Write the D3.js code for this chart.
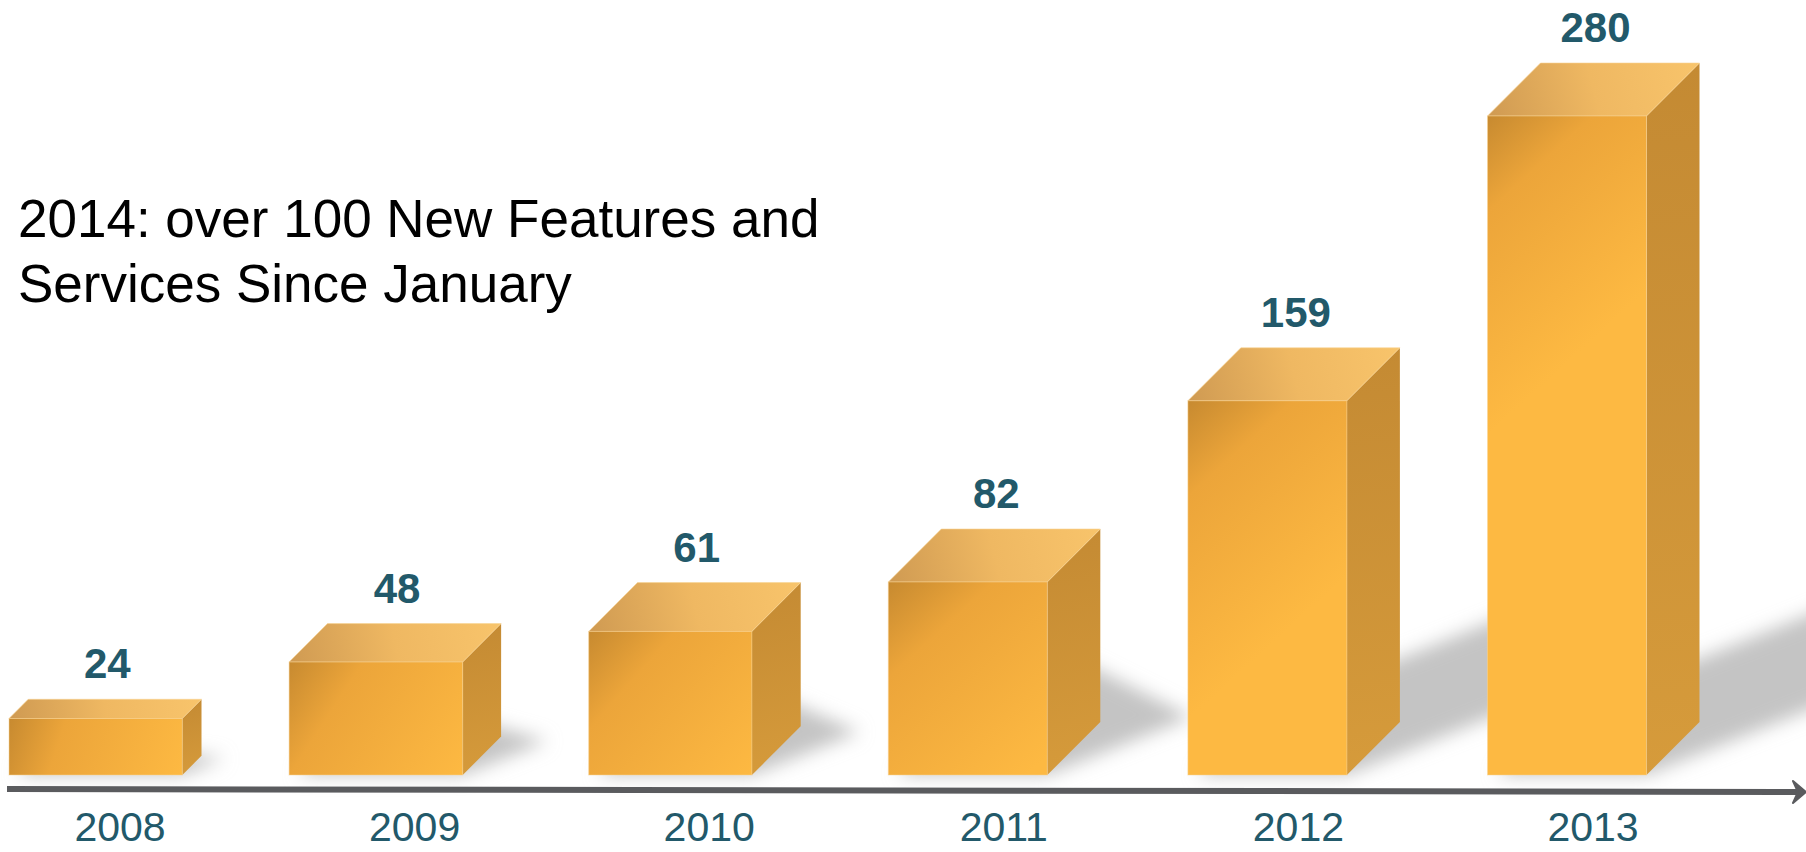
<!DOCTYPE html>
<html>
<head>
<meta charset="utf-8">
<script src="https://cdn.jsdelivr.net/npm/d3@7/dist/d3.min.js"></script>
<style>
  html, body { margin: 0; padding: 0; background: #ffffff; }
  svg { display: block; }
</style>
</head>
<body>
<svg id="chart" width="1806" height="852"></svg>
<script>
// ---- data ----
const years = ["2008", "2009", "2010", "2011", "2012", "2013"];
const values = [24, 48, 61, 82, 159, 280];
const titleLines = ["2014: over 100 New Features and", "Services Since January"];

// ---- layout ----
const W = 1806, H = 852;
const baseY = 775;
const bandW = 212;           // front face + depth
const maxDepth = 53;
const depthRatio = 0.34;
const leftLimit = 9;
const labelColor = "#22596a";
const font = "'Liberation Sans', Arial, Helvetica, sans-serif";

const svg = d3.select("#chart");
const defs = svg.append("defs");

const x = d3.scalePoint().domain(years).range([-10.5, 1487.5]);
const yearX = d3.scalePoint().domain(years).range([120, 1593]);
const y = d3.scaleLinear().domain([0, 280]).range([baseY, 116]);

const bars = years.map((yr, i) => {
  const v = values[i];
  const h = baseY - y(v);
  const d = Math.min(h * depthRatio, maxDepth);
  const bandLeft = x(yr);
  const x0 = Math.max(bandLeft, leftLimit);
  const x1 = bandLeft + bandW - d;
  const yt = y(v);
  return { yr, v, i, h, d, x0, x1, yt, cx: (x0 + x1 + d) / 2 };
});

// shadow blur filter
const f = defs.append("filter").attr("id", "shadowBlur")
  .attr("x", "-30%").attr("y", "-30%").attr("width", "160%").attr("height", "160%");
f.append("feGaussianBlur").attr("stdDeviation", 9);

// gradients per bar
bars.forEach(b => {
  const gF = defs.append("linearGradient").attr("id", "front" + b.i)
    .attr("gradientUnits", "userSpaceOnUse")
    .attr("x1", b.x0).attr("y1", b.yt)
    .attr("x2", b.x1).attr("y2", Math.min(baseY, b.yt + 1.1 * (b.x1 - b.x0)));
  gF.append("stop").attr("offset", 0).attr("stop-color", "#c78a30");
  gF.append("stop").attr("offset", 0.3).attr("stop-color", "#eca53a");
  gF.append("stop").attr("offset", 1).attr("stop-color", "#fdb942");

  const gT = defs.append("linearGradient").attr("id", "top" + b.i)
    .attr("gradientUnits", "userSpaceOnUse")
    .attr("x1", b.x0).attr("y1", b.yt)
    .attr("x2", b.x1 + b.d).attr("y2", b.yt - b.d);
  gT.append("stop").attr("offset", 0).attr("stop-color", "#cf9a52");
  gT.append("stop").attr("offset", 0.5).attr("stop-color", "#efb862");
  gT.append("stop").attr("offset", 1).attr("stop-color", "#f8c46b");

  const gS = defs.append("linearGradient").attr("id", "side" + b.i)
    .attr("gradientUnits", "userSpaceOnUse")
    .attr("x1", b.x1).attr("y1", b.yt - b.d)
    .attr("x2", b.x1 + b.d).attr("y2", baseY);
  gS.append("stop").attr("offset", 0).attr("stop-color", "#c48a33");
  gS.append("stop").attr("offset", 1).attr("stop-color", "#d69b3b");
});

// ---- shadows ----
function shadowPath(b) {
  const vx = 0.75 * b.h, vy = -0.3 * b.h;
  const pts = [
    [b.x0 + 10, baseY], [b.x1, baseY], [b.x1 + vx, baseY + vy],
    [b.x0 + b.d + vx, baseY - b.d + vy], [b.x0 + b.d, baseY - b.d]
  ];
  return "M" + pts.map(p => p.join(",")).join("L") + "Z";
}
svg.append("g").attr("class", "shadows")
  .selectAll("path").data(bars).join("path")
  .attr("d", shadowPath)
  .attr("fill", "#c4c4c4")
  .attr("filter", "url(#shadowBlur)");

// ---- bars ----
const gb = svg.append("g").attr("class", "bars")
  .selectAll("g").data(bars).join("g");

gb.append("path") // side
  .attr("d", b => `M${b.x1},${b.yt}L${b.x1 + b.d},${b.yt - b.d}L${b.x1 + b.d},${baseY - b.d}L${b.x1},${baseY}Z`)
  .attr("fill", b => `url(#side${b.i})`);

gb.append("path") // top
  .attr("d", b => `M${b.x0},${b.yt}L${b.x0 + b.d},${b.yt - b.d}L${b.x1 + b.d},${b.yt - b.d}L${b.x1},${b.yt}Z`)
  .attr("fill", b => `url(#top${b.i})`)
  .attr("stroke", "#f9d493").attr("stroke-width", 1).attr("stroke-opacity", 0.6);

gb.append("rect") // front
  .attr("x", b => b.x0).attr("y", b => b.yt)
  .attr("width", b => b.x1 - b.x0).attr("height", b => baseY - b.yt)
  .attr("fill", b => `url(#front${b.i})`)
  .attr("stroke", "#f9d493").attr("stroke-width", 1).attr("stroke-opacity", 0.5);

// value labels
svg.append("g").selectAll("text").data(bars).join("text")
  .attr("x", b => b.cx + 2)
  .attr("y", b => b.yt - b.d - 21)
  .attr("text-anchor", "middle")
  .attr("font-family", font).attr("font-weight", "bold").attr("font-size", 42)
  .attr("fill", labelColor)
  .text(b => b.v);

// ---- axis ----
svg.append("line")
  .attr("x1", 7).attr("y1", 789).attr("x2", 1798).attr("y2", 792)
  .attr("stroke", "#5a5b5e").attr("stroke-width", 6);
svg.append("path")
  .attr("d", "M1806,792L1793,781L1798,792L1793,803Z")
  .attr("fill", "#5a5b5e").attr("stroke", "#5a5b5e").attr("stroke-width", 2).attr("stroke-linejoin", "round");

svg.append("g").selectAll("text").data(years).join("text")
  .attr("x", d => yearX(d))
  .attr("y", 841)
  .attr("text-anchor", "middle")
  .attr("font-family", font).attr("font-size", 41)
  .attr("fill", labelColor)
  .text(d => d);

// ---- title ----
const t = svg.append("text")
  .attr("font-family", font).attr("font-size", 53).attr("fill", "#000");
t.selectAll("tspan").data(titleLines).join("tspan")
  .attr("x", 18).attr("y", (d, i) => 237 + i * 65)
  .text(d => d);
</script>
</body>
</html>
